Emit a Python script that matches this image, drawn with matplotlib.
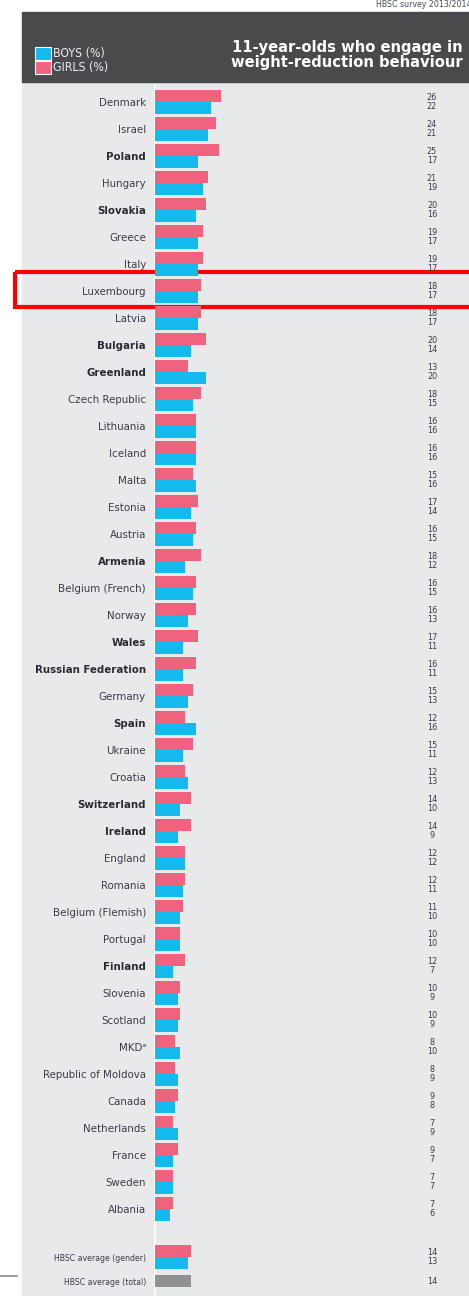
import matplotlib
matplotlib.use("Agg")
import matplotlib.pyplot as plt
import numpy as np
from matplotlib.patches import Rectangle
from matplotlib.transforms import blended_transform_factory

plt.rcParams['font.family'] = ['DejaVu Sans']
plt.rcParams['font.stretch'] = 'condensed'

countries = ["Denmark", "Israel", "Poland", "Hungary", "Slovakia", "Greece", "Italy",
             "Luxembourg", "Latvia", "Bulgaria", "Greenland", "Czech Republic", "Lithuania",
             "Iceland", "Malta", "Estonia", "Austria", "Armenia", "Belgium (French)", "Norway",
             "Wales", "Russian Federation", "Germany", "Spain", "Ukraine", "Croatia",
             "Switzerland", "Ireland", "England", "Romania", "Belgium (Flemish)", "Portugal",
             "Finland", "Slovenia", "Scotland", "MKD\u1d43", "Republic of Moldova", "Canada",
             "Netherlands", "France", "Sweden", "Albania"]
girls = [26, 24, 25, 21, 20, 19, 19, 18, 18, 20, 13, 18, 16, 16, 15, 17, 16, 18, 16, 16,
         17, 16, 15, 12, 15, 12, 14, 14, 12, 12, 11, 10, 12, 10, 10, 8, 8, 9, 7, 9, 7, 7]
boys = [22, 21, 17, 19, 16, 17, 17, 17, 17, 14, 20, 15, 16, 16, 16, 14, 15, 12, 15, 13,
        11, 11, 13, 16, 11, 13, 10, 9, 12, 11, 10, 10, 7, 9, 9, 10, 9, 8, 9, 7, 7, 6]
bold_countries = ["Poland", "Slovakia", "Bulgaria", "Greenland", "Armenia", "Wales",
                  "Russian Federation", "Spain", "Switzerland", "Ireland", "Finland"]
avg_labels = ["HBSC average (gender)", "HBSC average (total)"]
avg_girls = 14
avg_boys = 13
avg_total = 14
highlight = "Luxembourg"

PINK = "#F0637E"
BLUE = "#14B9EE"
GREY_BAR = "#919193"
PANEL = "#E8E9EB"
HEADER = "#4A4A4C"
TXT = "#3C3C48"

W, H = 469, 1296
fig = plt.figure(figsize=(W / 100, H / 100), dpi=100)

# decoration axes in pixel coordinates
deco = fig.add_axes([0, 0, 1, 1])
deco.set_xlim(0, W)
deco.set_ylim(H, 0)
deco.axis("off")
deco.add_patch(Rectangle((22, 82), W - 22, H - 82, color=PANEL, zorder=0))
deco.add_patch(Rectangle((22, 12), W - 22, 70, color=HEADER, zorder=1))
deco.plot([155, 155], [86, H], color="white", lw=1.2, zorder=2)
deco.plot([0, 17], [1276, 1276], color="#8A8A8A", lw=1.2, zorder=2)
deco.text(376, 4.5, "HBSC survey 2013/2014", fontsize=6.3, color="#4A4A5A", va="center",
          ha="left", clip_on=False)
# legend
deco.add_patch(Rectangle((35, 47), 16, 13, facecolor=BLUE, edgecolor="white", lw=0.8, zorder=3))
deco.add_patch(Rectangle((35, 61), 16, 13, facecolor=PINK, edgecolor="white", lw=0.8, zorder=3))
deco.text(53, 54, "BOYS (%)", color="#EDEDF5", fontsize=8.8, va="center", ha="left", zorder=3)
deco.text(53, 68, "GIRLS (%)", color="#EDEDF5", fontsize=8.8, va="center", ha="left", zorder=3)
deco.text(463, 55, "11-year-olds who engage in\nweight-reduction behaviour", color="white",
          fontsize=11.8, fontweight="bold", ha="right", va="center", linespacing=1.05, zorder=3)

# bar axes
x0 = 155 / W
ax = fig.add_axes([x0, 0, 1 - x0, 1])
ax.patch.set_alpha(0)
px_per_unit = 2.54
ax.set_xlim(0, (W - 155) / px_per_unit)
row_h = 27.0
top_row_px = 102.0
ax.set_ylim((H - top_row_px) / row_h, -top_row_px / row_h)
for s in ax.spines.values():
    s.set_visible(False)
ax.set_xticks([])

n = len(countries)
ypos = np.arange(n)
bh = 0.43
ax.barh(ypos - bh / 2, girls, height=bh, color=PINK, zorder=3)
ax.barh(ypos + bh / 2, boys, height=bh, color=BLUE, zorder=3)

avg_y = np.array([n + 0.78, n + 1.67])
ax.barh([avg_y[0] - bh / 2], [avg_girls], height=bh, color=PINK, zorder=3)
ax.barh([avg_y[0] + bh / 2], [avg_boys], height=bh, color=BLUE, zorder=3)
ax.barh([avg_y[1]], [avg_total], height=bh, color=GREY_BAR, zorder=3)

ax.set_yticks(list(ypos) + list(avg_y))
ax.set_yticklabels(countries + avg_labels)
ax.tick_params(axis="y", length=0, pad=6.5)
for lbl in ax.get_yticklabels():
    t = lbl.get_text()
    lbl.set_color(TXT)
    lbl.set_fontstretch('condensed')
    if t in avg_labels:
        lbl.set_fontsize(6.2)
    else:
        lbl.set_fontsize(8.2)
    if t in bold_countries:
        lbl.set_fontweight("bold")
        lbl.set_color("#2A2A33")

# value numbers
tr = blended_transform_factory(fig.transFigure, ax.transData)
xn = 432 / W
off = 0.155
for i in range(n):
    ax.text(xn, ypos[i] - off, str(girls[i]), transform=tr, ha="center", va="center",
            fontsize=6.5, color=TXT)
    ax.text(xn, ypos[i] + off, str(boys[i]), transform=tr, ha="center", va="center",
            fontsize=6.5, color=TXT)
ax.text(xn, avg_y[0] - off, str(avg_girls), transform=tr, ha="center", va="center",
        fontsize=6.5, color=TXT)
ax.text(xn, avg_y[0] + off, str(avg_boys), transform=tr, ha="center", va="center",
        fontsize=6.5, color=TXT)
ax.text(xn, avg_y[1], str(avg_total), transform=tr, ha="center", va="center",
        fontsize=6.5, color=TXT)

# highlight box around Luxembourg
hi = countries.index(highlight)
ytop = top_row_px + row_h * hi - 19
deco.add_patch(Rectangle((15, ytop), W, 35, fill=False, edgecolor="#FF0000", lw=3,
                         zorder=10, clip_on=False))

fig.savefig("out.png", dpi=100)
